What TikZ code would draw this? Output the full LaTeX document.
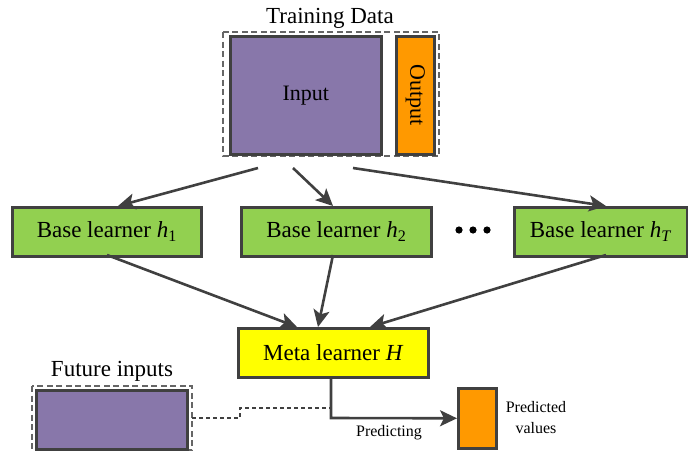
\documentclass[tikz,border=0pt]{standalone}
\usepackage{fontspec}
\setmainfont{Liberation Serif}
\usetikzlibrary{arrows.meta}
\definecolor{bdr}{HTML}{404040}
\definecolor{purp}{HTML}{8877AA}
\definecolor{oran}{HTML}{FF9900}
\definecolor{grn}{HTML}{92D050}
\definecolor{yel}{HTML}{FFFF00}
\tikzset{
  box/.style={draw=bdr, line width=2.6pt, inner sep=0pt},
  dbox/.style={draw=bdr!80, line width=1.3pt, dash pattern=on 6pt off 3.5pt},
  arr/.style={draw=bdr, line width=2.6pt, -{Stealth[length=17pt,width=16pt,inset=4pt]}},
  lbl/.style={font=\fontsize{23}{26}\selectfont, inner sep=0pt},
  small/.style={font=\fontsize{16}{19}\selectfont, inner sep=0pt},
}
\begin{document}
\begin{tikzpicture}[x=1pt,y=-1pt]
\useasboundingbox (0,0) rectangle (688,450);
% training data
\node[lbl] (tdt) at (330,18) {Training Data};
\draw[dbox] (223,32) rectangle (439,156);
\node[box, fill=purp, minimum width=151pt, minimum height=118pt, anchor=north west] (inp) at (229,35) {};
\node[font=\fontsize{22}{24}\selectfont] at (inp.center) {Input};
\node[box, fill=oran, minimum width=38pt, minimum height=118pt, anchor=north west] (out) at (395,35) {};
\node[font=\fontsize{22}{24}\selectfont, rotate=-90] at (out.center) {Output};
\coordinate (s1) at (258,168);
\coordinate (s2) at (293,168);
\coordinate (s3) at (353,168);
% base learners
\node[box, fill=grn, minimum width=189pt, minimum height=49pt, anchor=north west] (h1) at (11,206) {};
\node[lbl] at (h1.center) {Base learner \textit{h}\textsubscript{1}};
\node[box, fill=grn, minimum width=190pt, minimum height=49pt, anchor=north west] (h2) at (240,206) {};
\node[lbl] at (h2.center) {Base learner \textit{h}\textsubscript{2}};
\node[box, fill=grn, minimum width=173pt, minimum height=49pt, anchor=north west] (hT) at (513,206) {};
\node[lbl] at (hT.center) {Base learner \textit{h}\textsubscript{\textit{T}}};
\node[inner sep=0pt] (dots) at (473,230) {};
\foreach \dx in {-14,0,14} \fill (473+\dx,230) circle (3.6pt);
\draw[arr] (s1) -- (118,206);
\draw[arr] (s2) -- (333,206);
\draw[arr] (s3) -- (606,206);
% meta learner
\node[box, fill=yel, minimum width=190pt, minimum height=49pt, anchor=north west] (meta) at (237,327) {};
\node[lbl] at (meta.center) {Meta learner \textit{H}};
\draw[arr] (107,255) -- (297,327);
\draw[arr] (333,255) -- (318,327);
\draw[arr] (606,255) -- (370,327);
% future inputs
\node[lbl] (fit) at (112,371) {Future inputs};
\draw[dbox] (32,386) rectangle (192,450);
\node[box, fill=purp, minimum width=151pt, minimum height=59pt, anchor=north west] (fin) at (35,389) {};
% predicted
\node[box, fill=oran, minimum width=38pt, minimum height=60pt, anchor=north west] (pred) at (457,387) {};
\node[small, align=center] (pv) at (536,418) {Predicted\\[2pt]values};
\draw[draw=bdr, line width=2pt, dash pattern=on 4pt off 3pt] (192,418) -- (240,418) -- (240,408) -- (331,408);
\draw[arr] (331,376) -- (331,418) -- (pred.west);
\node[small] (pl) at (389,433) {Predicting};
\end{tikzpicture}
\end{document}
